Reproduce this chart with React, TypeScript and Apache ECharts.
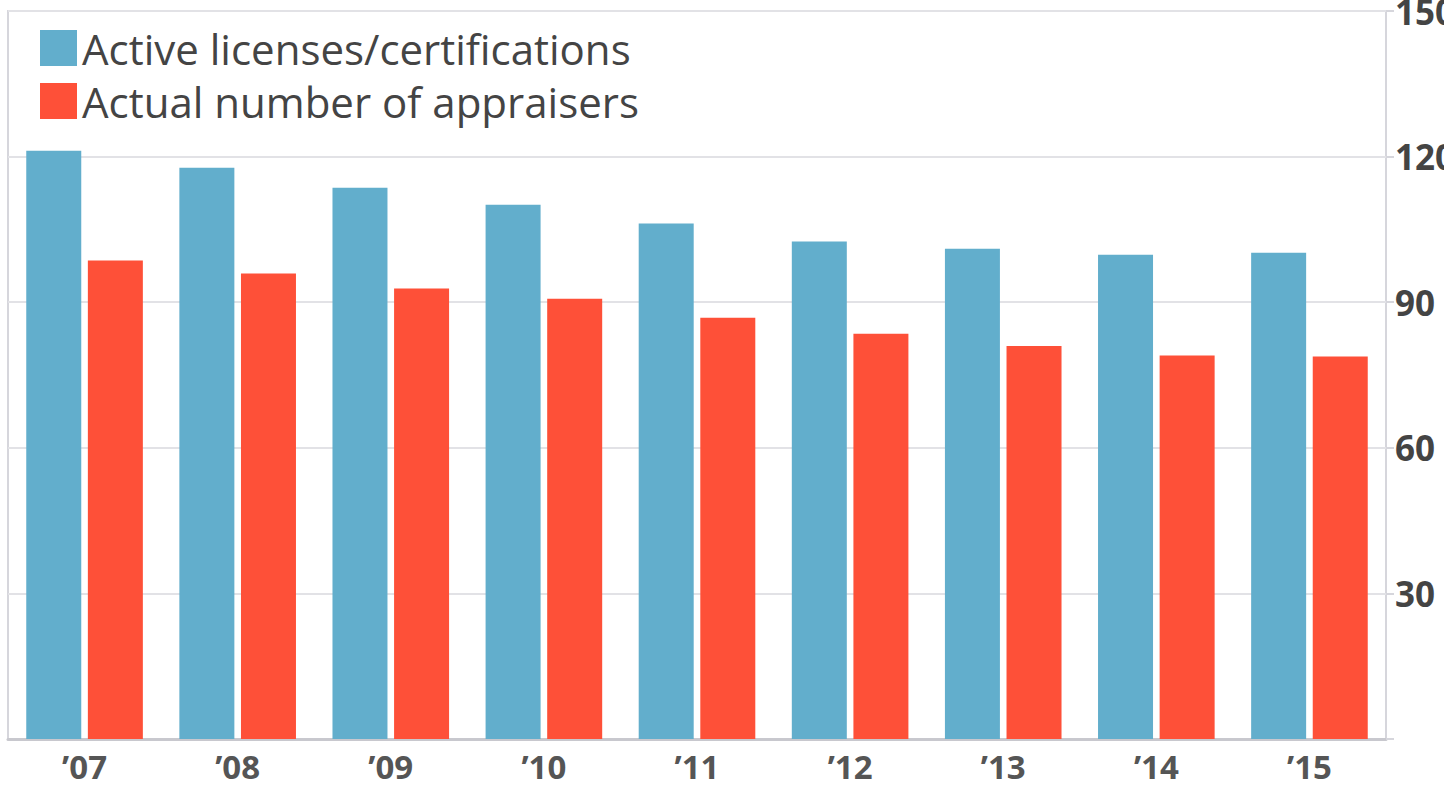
import React, { useEffect, useRef } from "react";
import * as echarts from "echarts";

const categories = ["’07", "’08", "’09", "’10", "’11", "’12", "’13", "’14", "’15"];
const activeLicenses = [121.2, 117.7, 113.6, 110.1, 106.2, 102.5, 101.0, 99.8, 100.2];
const actualAppraisers = [98.6, 95.9, 92.8, 90.7, 86.8, 83.5, 81.0, 79.0, 78.8];
const seriesNames = ["Active licenses/certifications", "Actual number of appraisers"];

export default function App() {
  const ref = useRef<HTMLDivElement>(null);
  useEffect(() => {
    const chart = echarts.init(ref.current!, null, { renderer: "svg" });
    chart.setOption({
      animation: false,
      backgroundColor: "#ffffff",
      textStyle: { fontFamily: "Open Sans" },
      legend: {
        orient: "vertical",
        left: 35,
        top: 22,
        itemWidth: 37,
        itemHeight: 36,
        itemGap: 11,
        icon: "rect",
        textStyle: { fontSize: 42, color: "#444", fontFamily: "Open Sans" },
        data: seriesNames,
      },
      grid: {
        left: 8,
        right: 58,
        top: 11,
        bottom: 48,
        show: true,
        borderColor: "#d6d6dc",
        borderWidth: 2,
        outerBoundsMode: "none",
        containLabel: false,
      },
      xAxis: {
        type: "category",
        data: categories,
        axisLine: { show: true, lineStyle: { color: "#c8c8ce", width: 3 } },
        axisTick: { show: false },
        axisLabel: { fontSize: 33, fontWeight: "bold", color: "#555", margin: 11, fontFamily: "Open Sans" },
      },
      yAxis: {
        type: "value",
        position: "right",
        min: 0,
        max: 150,
        interval: 30,
        axisLine: { show: false },
        axisTick: { show: true, length: 8, lineStyle: { color: "#d6d6dc", width: 2 } },
        splitLine: { show: true, lineStyle: { color: "#e2e2e6", width: 2 } },
        axisLabel: {
          fontSize: 35,
          fontWeight: "bold",
          color: "#444",
          margin: 9,
          fontFamily: "Open Sans",
          formatter: (v: number) => (v === 0 ? "" : String(v)),
        },
      },
      series: [
        {
          name: seriesNames[0],
          type: "bar",
          data: activeLicenses,
          barWidth: 55,
          barGap: "12%",
          itemStyle: { color: "#62aecc" },
        },
        {
          name: seriesNames[1],
          type: "bar",
          data: actualAppraisers,
          barWidth: 55,
          itemStyle: { color: "#fe5038" },
        },
      ],
    });
    return () => chart.dispose();
  }, []);
  return <div ref={ref} style={{ position: "fixed", left: 0, top: 0, width: 1444, height: 787 }} />;
}
